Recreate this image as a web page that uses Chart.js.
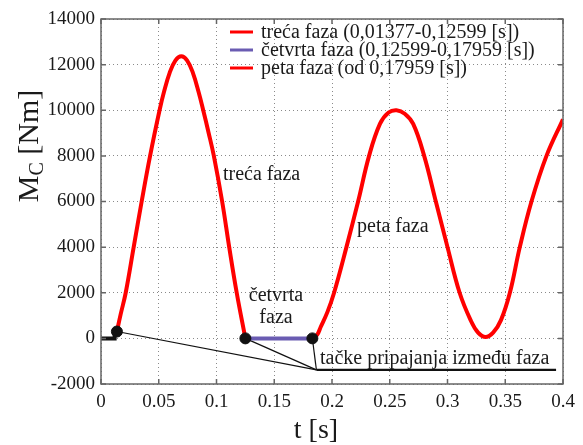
<!DOCTYPE html>
<html>
<head>
<meta charset="utf-8">
<script src="https://cdn.jsdelivr.net/npm/chart.js@4.4.0/dist/chart.umd.min.js"></script>
<style>
    html, body { margin: 0; padding: 0; background: #fff; }
    .chart-container { position: relative; width: 583px; height: 445px; }
</style>
</head>
<body>
<div class="chart-container"><canvas id="momentChart"></canvas></div>
<script>
// values
const preTime = [0, 0.0115, 0.0118, 0.01377];
const preValue = [0, 0, 300, 300];

const phase3Time = [0.01377, 0.0170, 0.0214, 0.0283, 0.0352, 0.0425, 0.0507, 0.0545, 0.0595, 0.0645,
    0.0695, 0.0745, 0.0795, 0.0845, 0.0885, 0.0930, 0.0977, 0.1049, 0.1110, 0.1175, 0.1250];
const phase3Value = [300, 1050, 2000, 4000, 6000, 8000, 10000, 10800, 11650, 12190,
    12370, 12190, 11650, 10800, 10000, 9050, 8000, 6000, 4000, 2000, 0];

const phase4Time = [0.1250, 0.1830];
const phase4Value = [0, 0];

const phase5Time = [0.1830, 0.1870, 0.1902, 0.1960, 0.2018, 0.2125, 0.2226, 0.2321, 0.2415, 0.2490,
    0.2559, 0.2630, 0.2703, 0.2798, 0.2899, 0.3000, 0.3105, 0.3200, 0.3265, 0.3330,
    0.3395, 0.3463, 0.3540, 0.3626, 0.3727, 0.3857, 0.4000];
const phase5Value = [50, 150, 500, 1150, 2000, 4000, 6000, 8000, 9400, 9900,
    10000, 9850, 9400, 8000, 6000, 4000, 2000, 800, 250, 60,
    250, 800, 2000, 4000, 6000, 8000, 9600];

const joinTime = [0.01377, 0.1250, 0.1830];
const joinValue = [300, 0, 0];

const noteTime = [0.1865, 0.394];
const noteValue = [-1380, -1380];

const xTicks = [0, 0.05, 0.1, 0.15, 0.2, 0.25, 0.3, 0.35, 0.4];
const yTicks = [-2000, 0, 2000, 4000, 6000, 8000, 10000, 12000, 14000];

const legendLabels = ['treća faza (0,01377-0,12599 [s])', 'četvrta faza (0,12599-0,17959 [s])', 'peta faza (od 0,17959 [s])'];

const SERIF = '"Liberation Serif", "Times New Roman", serif';
const RED = '#ff0000';
const PURPLE = '#6a5cb2';

const toPoints = (ts, vs) => ts.map((t, i) => ({ x: t, y: vs[i] }));

const leaderLines = joinTime.map((t, i) => ({
    data: [{ x: t, y: joinValue[i] }, { x: noteTime[0], y: noteValue[0] }],
    borderColor: '#111', borderWidth: 1.2, pointRadius: 0, tension: 0, order: 3
}));

const framePlugin = {
    id: 'frame',
    afterDatasetsDraw(chart) {
        const { ctx, chartArea: a, scales: { x, y } } = chart;
        ctx.save();
        ctx.strokeStyle = '#666';
        ctx.lineWidth = 1.5;
        ctx.strokeRect(a.left, a.top, a.right - a.left, a.bottom - a.top);
        ctx.beginPath();
        xTicks.forEach(v => {
            const px = x.getPixelForValue(v);
            ctx.moveTo(px, a.bottom); ctx.lineTo(px, a.bottom - 5);
            ctx.moveTo(px, a.top); ctx.lineTo(px, a.top + 5);
        });
        yTicks.forEach(v => {
            const py = y.getPixelForValue(v);
            ctx.moveTo(a.left, py); ctx.lineTo(a.left + 5, py);
            ctx.moveTo(a.right, py); ctx.lineTo(a.right - 5, py);
        });
        ctx.stroke();
        ctx.restore();
    },
    afterDraw(chart) {
        const { ctx } = chart;
        ctx.save();
        ctx.fillStyle = '#1a1a1a';
        ctx.textBaseline = 'middle';

        // legend
        const legendColors = [RED, PURPLE, RED];
        ctx.font = '20px ' + SERIF;
        legendLabels.forEach((lbl, i) => {
            const yy = 32 + i * 18;
            ctx.strokeStyle = legendColors[i];
            ctx.lineWidth = 3;
            ctx.beginPath(); ctx.moveTo(230, yy); ctx.lineTo(253, yy); ctx.stroke();
            ctx.textAlign = 'left';
            ctx.fillText(lbl, 261, yy + 1);
        });

        // phase notes
        ctx.textAlign = 'left';
        ctx.fillText('treća faza', 223, 175);
        ctx.fillText('peta faza', 357, 227);
        ctx.fillText('tačke pripajanja između faza', 320, 359);
        ctx.textAlign = 'center';
        ctx.fillText('četvrta', 276, 296);
        ctx.fillText('faza', 276, 318);

        // axis titles
        ctx.font = '28px ' + SERIF;
        ctx.textAlign = 'center';
        ctx.textBaseline = 'alphabetic';
        ctx.fillText('t [s]', 316, 438);

        ctx.translate(38, 146);
        ctx.rotate(-Math.PI / 2);
        ctx.textAlign = 'left';
        ctx.font = '30px ' + SERIF;
        const wM = ctx.measureText('M').width;
        const wRest = ctx.measureText(' [Nm]').width;
        ctx.font = '20px ' + SERIF;
        const wC = ctx.measureText('C').width;
        let x0 = -(wM + wC + wRest) / 2;
        ctx.font = '30px ' + SERIF;
        ctx.fillText('M', x0, 0);
        ctx.font = '20px ' + SERIF;
        ctx.fillText('C', x0 + wM, 5);
        ctx.font = '30px ' + SERIF;
        ctx.fillText(' [Nm]', x0 + wM + wC, 0);
        ctx.restore();
    }
};

const ctx = document.getElementById('momentChart').getContext('2d');
new Chart(ctx, {
    type: 'line',
    data: {
        datasets: [
            { data: toPoints(joinTime, joinValue), showLine: false, pointRadius: 5.5,
              pointBackgroundColor: '#111', pointBorderColor: '#111', order: 0 },
            { data: toPoints(preTime, preValue), borderColor: '#111', borderWidth: 4, pointRadius: 0, tension: 0, order: 2 },
            { label: legendLabels[0], data: toPoints(phase3Time, phase3Value), borderColor: RED, borderWidth: 4,
              pointRadius: 0, tension: 0.4, order: 1 },
            { label: legendLabels[1], data: toPoints(phase4Time, phase4Value), borderColor: PURPLE, borderWidth: 4,
              pointRadius: 0, tension: 0, order: 1 },
            { label: legendLabels[2], data: toPoints(phase5Time, phase5Value), borderColor: RED, borderWidth: 4,
              pointRadius: 0, tension: 0.4, order: 1 },
            ...leaderLines,
            { data: toPoints(noteTime, noteValue), borderColor: '#111', borderWidth: 2.2, pointRadius: 0, tension: 0, order: 3 }
        ]
    },
    options: {
        responsive: true,
        maintainAspectRatio: false,
        animation: false,
        layout: { padding: { top: 19, right: 20, left: 0, bottom: 0 } },
        plugins: { legend: { display: false }, tooltip: { enabled: false } },
        scales: {
            x: {
                type: 'linear', min: 0, max: 0.4,
                afterBuildTicks: (scale) => { scale.ticks = xTicks.map(v => ({ value: v })); },
                afterFit: (scale) => { scale.height = 61; },
                ticks: {
                    color: '#1a1a1a', padding: 7,
                    font: { family: SERIF, size: 19 },
                    callback: (v) => String(Number(v.toFixed(2)))
                },
                grid: { color: '#8a8a8a', lineWidth: 1, drawTicks: false },
                border: { display: false, dash: [1, 3] }
            },
            y: {
                min: -2000, max: 14000,
                afterBuildTicks: (scale) => { scale.ticks = yTicks.map(v => ({ value: v })); },
                afterFit: (scale) => { scale.width = 101; },
                ticks: {
                    color: '#1a1a1a', padding: 6,
                    font: { family: SERIF, size: 19 },
                    callback: (v) => String(v)
                },
                grid: { color: '#8a8a8a', lineWidth: 1, drawTicks: false },
                border: { display: false, dash: [1, 3] }
            }
        }
    },
    plugins: [framePlugin]
});
</script>
</body>
</html>
